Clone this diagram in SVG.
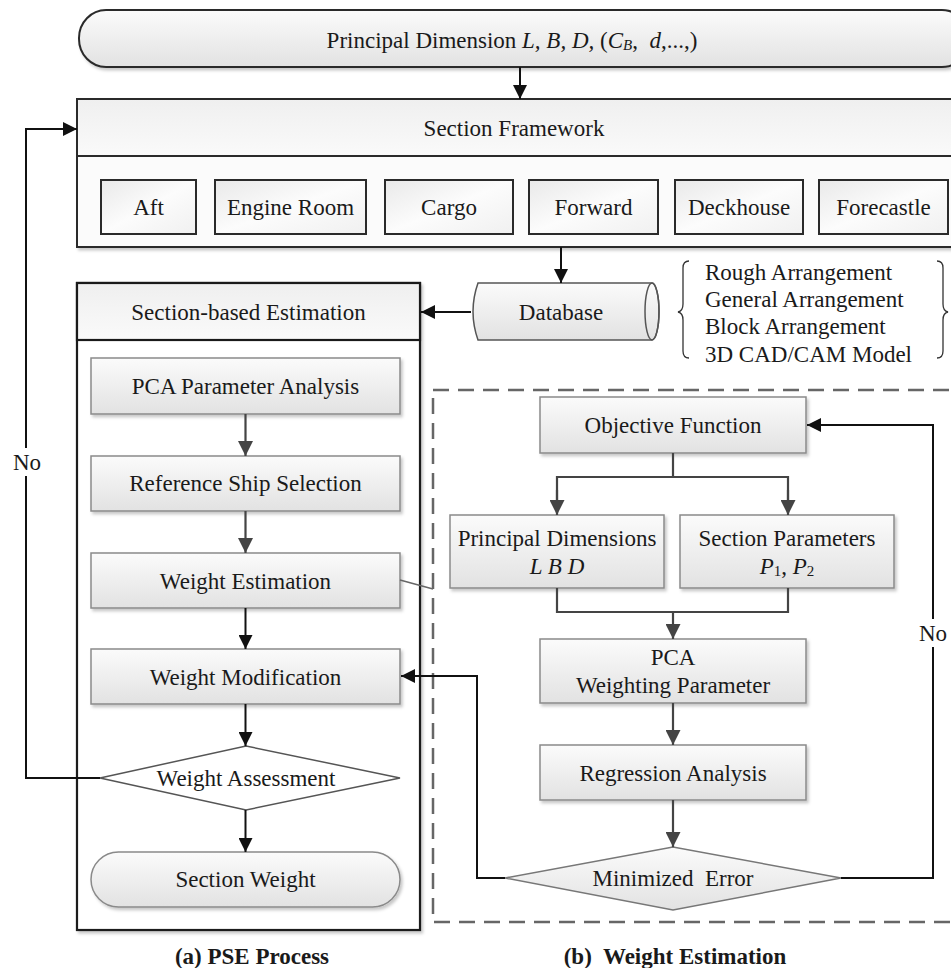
<svg xmlns="http://www.w3.org/2000/svg" width="951" height="968" viewBox="0 0 951 968">
<style>
text{font-family:"Liberation Serif","Times New Roman",serif;font-size:23px;fill:#1a1a1a}
.c{text-anchor:middle;dominant-baseline:central}
.cap{font-weight:bold;font-size:23px;text-anchor:middle}
.box{fill:url(#g);stroke:#8a8a8a;stroke-width:1.5}
.sbox{fill:url(#g2);stroke:#2a2a2a;stroke-width:2}
.ln{fill:none;stroke:#111;stroke-width:2}
.lg{fill:none;stroke:#444;stroke-width:2.2}
</style>
<defs>
<linearGradient id="g" x1="0" y1="0" x2="0" y2="1"><stop offset="0" stop-color="#fbfbfb"/><stop offset="1" stop-color="#e2e2e2"/></linearGradient>
<linearGradient id="g2" x1="0" y1="0" x2="1" y2="1"><stop offset="0" stop-color="#e9e9e9"/><stop offset="0.5" stop-color="#fcfcfc"/><stop offset="1" stop-color="#f0f0f0"/></linearGradient>
<linearGradient id="gh" x1="0" y1="0" x2="0" y2="1"><stop offset="0" stop-color="#efefef"/><stop offset="1" stop-color="#fafafa"/></linearGradient>
<filter id="sh" x="-5%" y="-10%" width="115%" height="130%"><feDropShadow dx="2" dy="2.5" stdDeviation="1.5" flood-color="#000" flood-opacity="0.22"/></filter>
<marker id="ab" viewBox="0 0 14 14" refX="14" refY="7" markerWidth="14" markerHeight="14" markerUnits="userSpaceOnUse" orient="auto"><path d="M0,0 L14,7 L0,14 z" fill="#111"/></marker>
<marker id="ag" viewBox="0 0 14 14" refX="14" refY="7" markerWidth="15" markerHeight="15" markerUnits="userSpaceOnUse" orient="auto"><path d="M0,0 L14,7 L0,14 z" fill="#444"/></marker>
</defs>

<!-- dashed region -->
<rect id="region-b" x="433" y="390" width="530" height="532" fill="none" stroke="#666" stroke-width="2.5" stroke-dasharray="16 9"/>

<g id="principal">
<rect x="79" y="10" width="890" height="57" rx="27" ry="28" fill="url(#g)" stroke="#2a2a2a" stroke-width="2" filter="url(#sh)"/>
<text x="512" y="40" class="c">Principal Dimension <tspan font-style="italic">L, B, D,</tspan> (<tspan font-style="italic">C</tspan><tspan font-size="15" dy="5" font-style="italic">B</tspan><tspan dy="-5" xml:space="preserve">,  </tspan><tspan font-style="italic">d</tspan>,...,)</text>
</g>

<g id="section-framework">
<rect x="77" y="99" width="890" height="148" fill="#fbfbfb" stroke="#2a2a2a" stroke-width="2" filter="url(#sh)"/>
<rect x="77" y="99" width="890" height="57" fill="url(#gh)" stroke="#2a2a2a" stroke-width="2"/>
<text x="514" y="128" class="c">Section Framework</text>
</g>
<g id="aft"><rect x="101" y="180" width="95" height="54" class="sbox"/><text x="148.5" y="207" class="c">Aft</text></g>
<g id="engine-room"><rect x="215" y="180" width="151" height="54" class="sbox"/><text x="290.5" y="207" class="c">Engine Room</text></g>
<g id="cargo"><rect x="385" y="180" width="128" height="54" class="sbox"/><text x="449" y="207" class="c">Cargo</text></g>
<g id="forward"><rect x="529" y="180" width="129" height="54" class="sbox"/><text x="593.5" y="207" class="c">Forward</text></g>
<g id="deckhouse"><rect x="675" y="180" width="128" height="54" class="sbox"/><text x="739" y="207" class="c">Deckhouse</text></g>
<g id="forecastle"><rect x="819" y="180" width="129" height="54" class="sbox"/><text x="883.5" y="207" class="c">Forecastle</text></g>

<g id="database">
<path d="M478,283 L652,283 A7,28.5 0 0 1 652,340 L478,340 Q468,311.5 478,283 z" fill="url(#g)" stroke="#555" stroke-width="1.5"/>
<ellipse cx="652" cy="311.5" rx="7" ry="28.5" fill="none" stroke="#555" stroke-width="1.5"/>
<text x="561" y="312" class="c">Database</text>
</g>

<g id="sources">
<path d="M689,261 Q683,261 683,268 L683,304 Q683,311 678,312 Q683,313 683,320 L683,351 Q683,358 689,358" fill="none" stroke="#333" stroke-width="1.3"/>
<path d="M937,261 Q943,261 943,268 L943,304 Q943,311 948,312 Q943,313 943,320 L943,351 Q943,358 937,358" fill="none" stroke="#333" stroke-width="1.3"/>
<text x="705" y="280">Rough Arrangement</text>
<text x="705" y="307">General Arrangement</text>
<text x="705" y="334">Block Arrangement</text>
<text x="705" y="362">3D CAD/CAM Model</text>
</g>

<g id="section-based-estimation">
<rect x="77" y="283" width="343" height="647" fill="#fff" stroke="#1a1a1a" stroke-width="2.2" filter="url(#sh)"/>
<rect x="77" y="283" width="343" height="57" fill="url(#gh)" stroke="#1a1a1a" stroke-width="2.2"/>
<text x="248.5" y="312" class="c">Section-based Estimation</text>
</g>

<g id="pca-analysis"><rect x="91" y="358" width="309" height="56" class="box" filter="url(#sh)"/><text x="245.5" y="386" class="c">PCA Parameter Analysis</text></g>
<g id="ref-ship"><rect x="91" y="456" width="309" height="55" class="box" filter="url(#sh)"/><text x="245.5" y="483" class="c">Reference Ship Selection</text></g>
<g id="weight-estimation"><rect x="91" y="553" width="309" height="55" class="box" filter="url(#sh)"/><text x="245.5" y="581" class="c">Weight Estimation</text></g>
<g id="weight-modification"><rect x="91" y="649" width="309" height="55" class="box" filter="url(#sh)"/><text x="245.5" y="677" class="c">Weight Modification</text></g>
<g id="weight-assessment"><polygon points="100,778 246,746 400,778 246,810" fill="#fff" stroke="#555" stroke-width="1.5"/><text x="246" y="778" class="c">Weight Assessment</text></g>
<g id="section-weight"><rect x="91" y="852" width="309" height="55" rx="27.5" class="box" filter="url(#sh)"/><text x="245.5" y="879" class="c">Section Weight</text></g>

<g id="objective"><rect x="540" y="397" width="266" height="56" class="box" filter="url(#sh)"/><text x="673" y="425" class="c">Objective Function</text></g>
<g id="principal-dims"><rect x="450" y="515" width="214" height="73" class="box" filter="url(#sh)"/><text x="557" y="538" class="c">Principal Dimensions</text><text x="557" y="566" class="c" font-style="italic">L B D</text></g>
<g id="section-params"><rect x="680" y="515" width="214" height="73" class="box" filter="url(#sh)"/><text x="787" y="538" class="c">Section Parameters</text><text x="787" y="566" class="c"><tspan font-style="italic">P</tspan><tspan font-size="15" dy="5">1</tspan><tspan dy="-5">, </tspan><tspan font-style="italic">P</tspan><tspan font-size="15" dy="5">2</tspan></text></g>
<g id="pca-weighting"><rect x="540" y="639" width="266" height="64" class="box" filter="url(#sh)"/><text x="673" y="657" class="c">PCA</text><text x="673" y="685" class="c">Weighting Parameter</text></g>
<g id="regression"><rect x="540" y="745" width="266" height="55" class="box" filter="url(#sh)"/><text x="673" y="773" class="c">Regression Analysis</text></g>
<g id="minimized-error"><polygon points="505,878 673,847 841,878 673,910" fill="url(#g)" stroke="#777" stroke-width="1.5"/><text x="673" y="878" class="c" xml:space="preserve">Minimized  Error</text></g>

<g id="connectors">
<line x1="520" y1="67" x2="520" y2="99" class="ln" marker-end="url(#ab)"/>
<line x1="561" y1="247" x2="561" y2="283" class="ln" marker-end="url(#ab)"/>
<line x1="471" y1="312" x2="421" y2="312" class="ln" stroke-width="2.5" marker-end="url(#ab)"/>
<line x1="245.5" y1="414" x2="245.5" y2="456" class="lg" marker-end="url(#ag)"/>
<line x1="245.5" y1="511" x2="245.5" y2="553" class="lg" marker-end="url(#ag)"/>
<line x1="245.5" y1="608" x2="245.5" y2="649" class="ln" marker-end="url(#ab)"/>
<line x1="245.5" y1="704" x2="245.5" y2="746" class="ln" marker-end="url(#ab)"/>
<line x1="245.5" y1="810" x2="245.5" y2="852" class="ln" marker-end="url(#ab)"/>
<polyline points="100,778 26,778 26,476" class="ln"/>
<polyline points="26,448 26,129 77,129" class="ln" marker-end="url(#ab)"/>
<polyline points="400,580 433,589" fill="none" stroke="#666" stroke-width="1.5"/>
<line x1="673" y1="453" x2="673" y2="477" class="lg"/>
<polyline points="557,513 557,477 788,477 788,513" class="lg"/>
<line x1="557" y1="490" x2="557" y2="515" class="lg" marker-end="url(#ag)"/>
<line x1="788" y1="490" x2="788" y2="515" class="lg" marker-end="url(#ag)"/>
<polyline points="557,588 557,612 788,612 788,588" class="lg"/>
<line x1="673" y1="612" x2="673" y2="639" class="lg" marker-end="url(#ag)"/>
<line x1="673" y1="703" x2="673" y2="745" class="lg" marker-end="url(#ag)"/>
<line x1="673" y1="800" x2="673" y2="847" class="lg" marker-end="url(#ag)"/>
<polyline points="505,878 477,878 477,676 401,676" class="ln" marker-end="url(#ab)"/>
<polyline points="841,878 933,878 933,647" class="ln"/>
<polyline points="933,619 933,425 807,425" class="ln" marker-end="url(#ab)"/>
<text x="27" y="462" class="c">No</text>
<text x="933" y="633" class="c">No</text>
</g>

<text x="252" y="964" class="cap">(a) PSE Process</text>
<text x="675" y="964" class="cap" xml:space="preserve">(b)  Weight Estimation</text>
</svg>
